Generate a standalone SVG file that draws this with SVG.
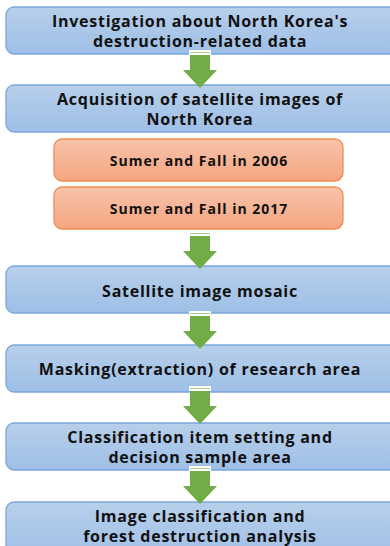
<svg xmlns="http://www.w3.org/2000/svg" width="390" height="546" viewBox="0 0 390 546">
  <defs>
    <linearGradient id="gBlue" x1="0" y1="0" x2="0" y2="1">
      <stop offset="0" stop-color="#b7cfea"/>
      <stop offset="1" stop-color="#9ebfe7"/>
    </linearGradient>
    <linearGradient id="gOrange" x1="0" y1="0" x2="0" y2="1">
      <stop offset="0" stop-color="#f8c3aa"/>
      <stop offset="1" stop-color="#f4a582"/>
    </linearGradient>
    <!-- block arrow pointing down, origin at shaft top centre -->
    <g id="downArrow">
      <rect x="-11" y="0" width="22" height="5" fill="#ffffff"/>
      <line x1="-10" y1="2.5" x2="10" y2="2.5" stroke="#a9d18e" stroke-width="1"/>
      <path d="M-10,5 H10 V20 H17 L0,38 L-17,20 H-10 Z" fill="#70ad47"/>
    </g>
  </defs>
  <style>
    .blue { fill: url(#gBlue); stroke: #7ba7dc; stroke-width: 1.3; }
    .orange { fill: url(#gOrange); stroke: #ef8c50; stroke-width: 1.3; }
    .t { font-family: "Open Sans", "Noto Sans", "DejaVu Sans", sans-serif; font-weight: 700; font-size: 16px; letter-spacing: 0.75px; fill: #111111; text-anchor: middle; }
    .ts { font-family: "Open Sans", "Noto Sans", "DejaVu Sans", sans-serif; font-weight: 700; font-size: 14px; letter-spacing: 1px; fill: #111111; text-anchor: middle; }
  </style>
  <rect width="390" height="546" fill="#ffffff"/>

  <g id="n1">
    <rect class="blue" x="6" y="7" width="392" height="47" rx="8"/>
    <text class="t" x="200" y="27">Investigation about North Korea's</text>
    <text class="t" x="200" y="47">destruction-related data</text>
  </g>
  <g id="n2">
    <rect class="blue" x="6" y="85" width="392" height="47" rx="8"/>
    <text class="t" x="200" y="105">Acquisition of satellite images of</text>
    <text class="t" x="200" y="125">North Korea</text>
  </g>
  <g id="n2a">
    <rect class="orange" x="54" y="139" width="289" height="42" rx="8"/>
    <text class="ts" x="199" y="166">Sumer and Fall in 2006</text>
  </g>
  <g id="n2b">
    <rect class="orange" x="54" y="187" width="289" height="42" rx="8"/>
    <text class="ts" x="199" y="214">Sumer and Fall in 2017</text>
  </g>
  <g id="n3">
    <rect class="blue" x="6" y="266" width="392" height="47" rx="8"/>
    <text class="t" x="200" y="297">Satellite image mosaic</text>
  </g>
  <g id="n4">
    <rect class="blue" x="6" y="345" width="392" height="47" rx="8"/>
    <text class="t" x="200" y="375">Masking(extraction) of research area</text>
  </g>
  <g id="n5">
    <rect class="blue" x="6" y="423" width="392" height="47" rx="8"/>
    <text class="t" x="200" y="443">Classification item setting and</text>
    <text class="t" x="200" y="463">decision sample area</text>
  </g>
  <g id="n6">
    <rect class="blue" x="6" y="502" width="392" height="60" rx="8"/>
    <text class="t" x="200" y="522">Image classification and</text>
    <text class="t" x="200" y="542">forest destruction analysis</text>
  </g>

  <g id="connectors">
    <use href="#downArrow" x="200" y="50"/>
    <use href="#downArrow" x="200" y="231"/>
    <use href="#downArrow" x="200" y="311"/>
    <use href="#downArrow" x="200" y="386"/>
    <use href="#downArrow" x="200" y="466"/>
  </g>
</svg>
